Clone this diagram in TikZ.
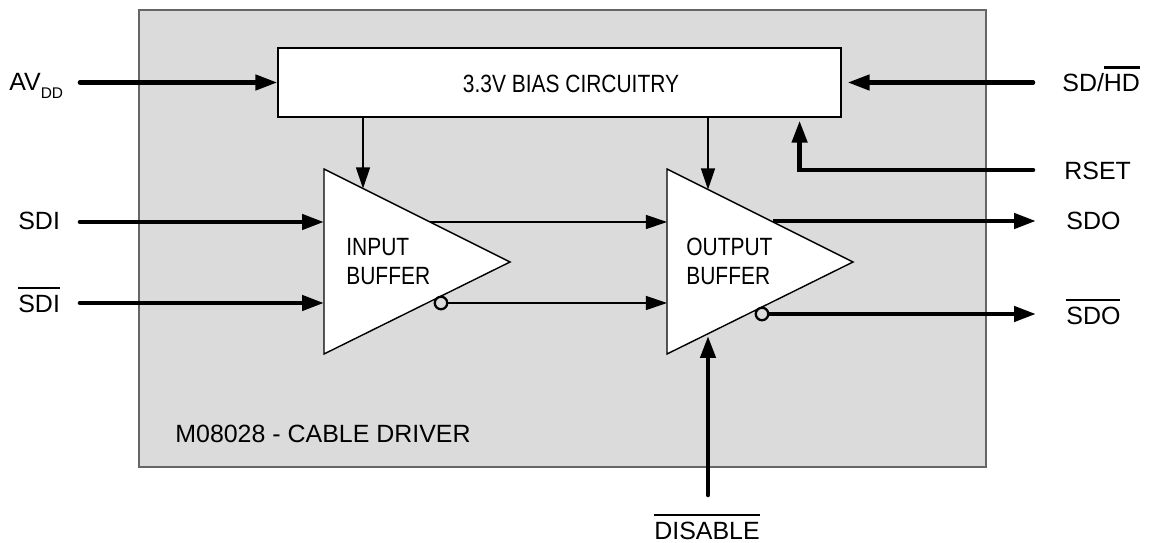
\documentclass[tikz,border=0pt]{standalone}
\usepackage{fontspec}
\setmainfont{Liberation Sans}
\newfontfamily\narrowsf[FakeStretch=0.84]{Liberation Sans}
\usetikzlibrary{arrows.meta}

\newcommand{\barred}[1]{\leavevmode\vbox{\hrule height 1.3pt \vskip 3.5pt \hbox{#1}}}

\tikzset{
	pinlabel/.style={font=\fontsize{14.2}{17}\selectfont, inner sep=0pt, anchor=base west},
	blocktext/.style={font=\narrowsf\fontsize{14.2}{17}\selectfont, inner sep=0pt, align=left},
	thick wire/.style={line width=2.6pt, line cap=round, -{Triangle[length=12.5pt,width=8.5pt]}},
	thin wire/.style={line width=0.7pt, -{Triangle[length=12pt,width=8pt]}},
	bubble/.style={circle, draw, line width=1.3pt, fill=black!14, inner sep=0pt, minimum size=0.25cm}
}

\begin{document}
\begin{tikzpicture}[x=0.02cm, y=-0.02cm]
		\useasboundingbox (0,0) rectangle (1150,543);

		% chip outline
		\filldraw [draw=black!60, fill=black!14, line width=0.6pt] (139,10) rectangle (986,467);

		% bias block
		\node (bias) [draw, fill=white, line width=0.75pt, minimum width=11.26cm, minimum height=1.38cm, inner sep=0pt] at (559.5,82.5) {};
		\node (bias text) [blocktext, anchor=base] at (571,93) {3.3V BIAS CIRCUITRY};

		% corners of the two buffers
		\coordinate (ib top) at (324,169);
		\coordinate (ib bot) at (324,354);
		\coordinate (ib tip) at (510,262);
		\coordinate (ob top) at (667,169);
		\coordinate (ob bot) at (667,354);
		\coordinate (ob tip) at (853,262);

		% draw the buffers
		\filldraw [fill=white, line width=0.8pt] (ib top) -- (ib tip) -- (ib bot) -- cycle;
		\filldraw [fill=white, line width=0.8pt] (ob top) -- (ob tip) -- (ob bot) -- cycle;
		\node (ib label) [blocktext, anchor=base west] at (346,285) {INPUT\\BUFFER};
		\node (ob label) [blocktext, anchor=base west] at (686,285) {OUTPUT\\BUFFER};

		\node (ib bubble) at (441,303) [bubble] {};
		\node (ob bubble) at (762,314) [bubble] {};

		% points on the buffer edges
		\coordinate (ib bias) at (363,188.5);
		\coordinate (ob bias) at (708,189.5);
		\coordinate (ib out) at (430,222);
		\coordinate (ob out) at (773,221);
		\coordinate (ob dis) at (708,336);

		% free ends of the pins
		\coordinate (avdd) at (80,82.5);
		\coordinate (sdhd) at (1033,82.5);
		\coordinate (rset) at (1033,170);
		\coordinate (sdi) at (80,222);
		\coordinate (sdin) at (80,303);
		\coordinate (sdo) at (1036,221);
		\coordinate (sdon) at (1036,314);
		\coordinate (dis) at (708,495);

		% draw the pins
		\draw [thick wire] (avdd) -- (bias.west);
		\draw [thick wire] (sdhd) -- ([shift={(6,0)}]bias.east);
		\draw [thick wire, line join=miter] (rset) -| ([shift={(-42,3)}]bias.south east);
		\draw [thick wire] (sdi) -- (sdi -| ib top);
		\draw [thick wire] (sdin) -- (sdin -| ib top);
		\draw [thick wire, line cap=butt] (ob out) -- (sdo);
		\draw [thick wire, line cap=butt] (ob bubble.east) -- (sdon);
		\draw [thick wire] (dis) -- (ob dis);

		% draw the inner links
		\draw [thin wire] (bias.south -| ib bias) -- (ib bias);
		\draw [thin wire] (bias.south -| ob bias) -- (ob bias);
		\draw [thin wire] (ib out) -- (ib out -| ob top);
		\draw [thin wire] (ib bubble.east) -- (ib bubble.east -| ob top);

		% pin names
		\node (avdd label) [pinlabel] at (9,91) {AV\raisebox{-4.5pt}{\fontsize{8.8}{10}\selectfont DD}};
		\node (sdhd label) [pinlabel] at (1062,92) {SD/\barred{HD}};
		\node (rset label) [pinlabel] at (1064,180) {RSET};
		\node (sdi label) [pinlabel] at (18,230) {SDI};
		\node (sdin label) [pinlabel] at (18,313) {\barred{SDI}};
		\node (sdo label) [pinlabel] at (1066,230) {SDO};
		\node (sdon label) [pinlabel] at (1066,325) {\barred{SDO}};
		\node (dis label) [pinlabel, anchor=base] at (707,540) {\barred{DISABLE}};
		\node (chip label) [pinlabel] at (175,443) {M08028 - CABLE DRIVER};
\end{tikzpicture}
\end{document}
